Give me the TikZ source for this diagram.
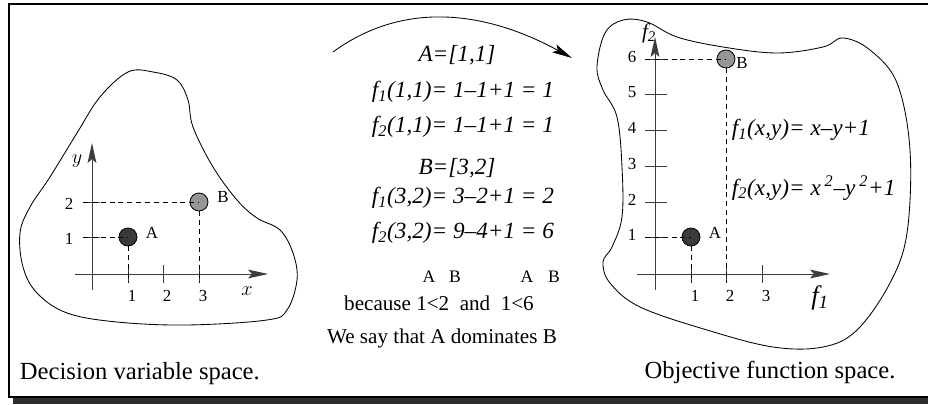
\documentclass[tikz,border=0pt]{standalone}
\usepackage{fontspec}
\setmainfont{Liberation Serif}
\usetikzlibrary{arrows.meta,positioning}
\definecolor{dotdark}{RGB}{58,58,58}
\definecolor{dotlight}{RGB}{150,150,150}
\definecolor{axisgray}{RGB}{60,60,60}
\definecolor{shadowgray}{RGB}{45,45,45}

\begin{document}
\begin{tikzpicture}[
  x=0.025cm, y=-0.025cm,
  axis/.style={-{Stealth[length=5mm, width=2.2mm, inset=1mm]}, axisgray, line width=0.7pt},
  tickmark/.style={axisgray, line width=0.7pt},
  guide/.style={dash pattern=on 3.5pt off 2.8pt, line width=0.6pt},
  dot/.style={circle, draw, line width=0.6pt, minimum size=0.45cm, inner sep=0pt},
  lab/.style={font=\fontsize{12}{14}\selectfont},
  ablab/.style={font=\fontsize{12.5}{14}\selectfont},
  eqn/.style={font=\fontsize{16.5}{19}\selectfont\itshape},
  note/.style={font=\fontsize{15}{18}\selectfont},
  captext/.style={font=\fontsize{17.5}{20}\selectfont}
]
\useasboundingbox (0,0) rectangle (928,405);
% frame with shadow
\fill[shadowgray] (13,10) rectangle (940,404);
\draw[line width=1.3pt, fill=white] (9,4) rectangle (935,397);

% decision variable space
\draw[line width=0.6pt] plot[smooth cycle, tension=0.6] coordinates {
  (128,72) (100,97) (77,133) (50,177) (30,207) (20,233) (23,267) (37,293)
  (67,313) (117,322) (187,325) (267,320) (287,310) (297,280) (293,253)
  (280,230) (257,218) (237,200) (213,167) (193,127) (188,100) (177,80) (153,72)};
\coordinate (lx0) at (75,274);
\coordinate (lx1) at (268,274);
\coordinate (ly0) at (92,290);
\coordinate (ly1) at (92,143);
\draw[axis] (lx0) -- (lx1);
\draw[axis] (ly0) -- (ly1);
\foreach \x/\t in {128/1,163/2,199/3} {
  \draw[tickmark] (\x,265) -- (\x,283);
  \node[lab] (lxt\t) at (\x+4,296) {\t};
}
\foreach \y/\t in {237/1,202/2} {
  \draw[tickmark] (83,\y) -- (100,\y);
  \node[lab] (lyt\t) at (69,\y+2) {\t};
}
\node[font=\fontsize{15}{17}\selectfont] (lxlab) at (247,291) {$x$};
\node[font=\fontsize{15}{17}\selectfont] (lylab) at (77,161) {$y$};

\node[dot, fill=dotdark] (la) at (128,237) {};
\node[dot, fill=dotlight] (lb) at (199,202) {};
\node[lab] (lalab) at (152,233) {A};
\node[lab] (lblab) at (223,197) {B};
\coordinate (lga) at (83,237);
\coordinate (lgb) at (83,202);
\coordinate (lgax) at (128,283);
\coordinate (lgbx) at (199,283);
\draw[guide] (lga) -- (la.center);
\draw[guide] (la.south) -- (lgax);
\draw[guide] (lgb) -- (lb.center);
\draw[guide] (lb.south) -- (lgbx);

\node[captext, anchor=west] (lcap) at (15,374) {Decision variable space.};

% mapping
\coordinate (arcstart) at (333,52);
\coordinate (arcend) at (572,58);
\draw[-{Stealth[length=5mm, width=2.2mm, inset=1mm]}, line width=0.6pt]
  (arcstart) .. controls (400,3) and (480,8) .. (arcend);

\node[eqn] (adef) at (457,55) {A=[1,1]};
\node[eqn] (fa1) at (463,92) {f\textsubscript{1}(1,1)= 1\textendash1+1 = 1};
\node[eqn] (fa2) at (463,127) {f\textsubscript{2}(1,1)= 1\textendash1+1 = 1};
\node[eqn] (bdef) at (457,168) {B=[3,2]};
\node[eqn] (fb1) at (463,198) {f\textsubscript{1}(3,2)= 3\textendash2+1 = 2};
\node[eqn] (fb2) at (463,233) {f\textsubscript{2}(3,2)= 9\textendash4+1 = 6};

\node[ablab] (ta1) at (429,277) {A};
\node[ablab] (tb1) at (455,277) {B};
\node[ablab] (ta2) at (527,277) {A};
\node[ablab] (tb2) at (554,277) {B};
\node[note] (because) at (439,303) {because 1<2\ \ and\ \ 1<6};
\node[note] (domin) at (442,338) {We say that A dominates B};

% objective function space
\draw[line width=0.6pt] plot[smooth cycle, tension=0.6] coordinates {
  (597,67) (605,33) (623,20) (647,22) (677,37) (723,47) (777,53) (823,47)
  (843,38) (870,50) (897,83) (910,150) (907,233) (890,283) (857,330)
  (823,347) (773,347) (707,330) (640,307) (610,283) (603,262) (612,247)
  (622,217) (622,167) (617,117) (603,90)};
\coordinate (rx0) at (637,274);
\coordinate (rx1) at (830,274);
\coordinate (ry0) at (655,290);
\coordinate (ry1) at (655,37);
\draw[axis] (rx0) -- (rx1);
\draw[axis] (ry0) -- (ry1);
\foreach \x/\t in {691/1,726/2,762/3} {
  \draw[tickmark] (\x,265) -- (\x,283);
  \node[lab] (rxt\t) at (\x+4,296) {\t};
}
\foreach \y/\t in {237/1,202/2,166/3,130/4,94/5,59/6} {
  \draw[tickmark] (645,\y) -- (667,\y);
  \node[lab] (ryt\t) at (632,\y-2) {\t};
}
\node[font=\fontsize{19}{21}\selectfont] (rxlab) at (820,298) {\itshape f\textsubscript{1}};
\node[font=\fontsize{15}{17}\selectfont] (rylab) at (649,33) {\itshape f\textsubscript{2}};

\node[dot, fill=dotdark] (ra) at (691,237) {};
\node[dot, fill=dotlight] (rb) at (726,59) {};
\node[lab] (ralab) at (715,233) {A};
\node[lab] (rblab) at (742,63) {B};
\coordinate (rga) at (645,237);
\coordinate (rgb) at (645,59);
\coordinate (rgax) at (691,283);
\coordinate (rgbx) at (726,283);
\draw[guide] (rga) -- (ra.center);
\draw[guide] (ra.south) -- (rgax);
\draw[guide] (rgb) -- (rb.center);
\draw[guide] (rb.south) -- (rgbx);

\node[eqn, anchor=west] (fxy1) at (727,130) {f\textsubscript{1}(x,y)= x\textendash y+1};
\node[eqn, anchor=west] (fxy2) at (727,188) {f\textsubscript{2}(x,y)= x\,\textsuperscript{2}\textendash y\,\textsuperscript{2}+1};

\node[captext] (rcap) at (770,372) {Objective function space.};
\end{tikzpicture}
\end{document}
